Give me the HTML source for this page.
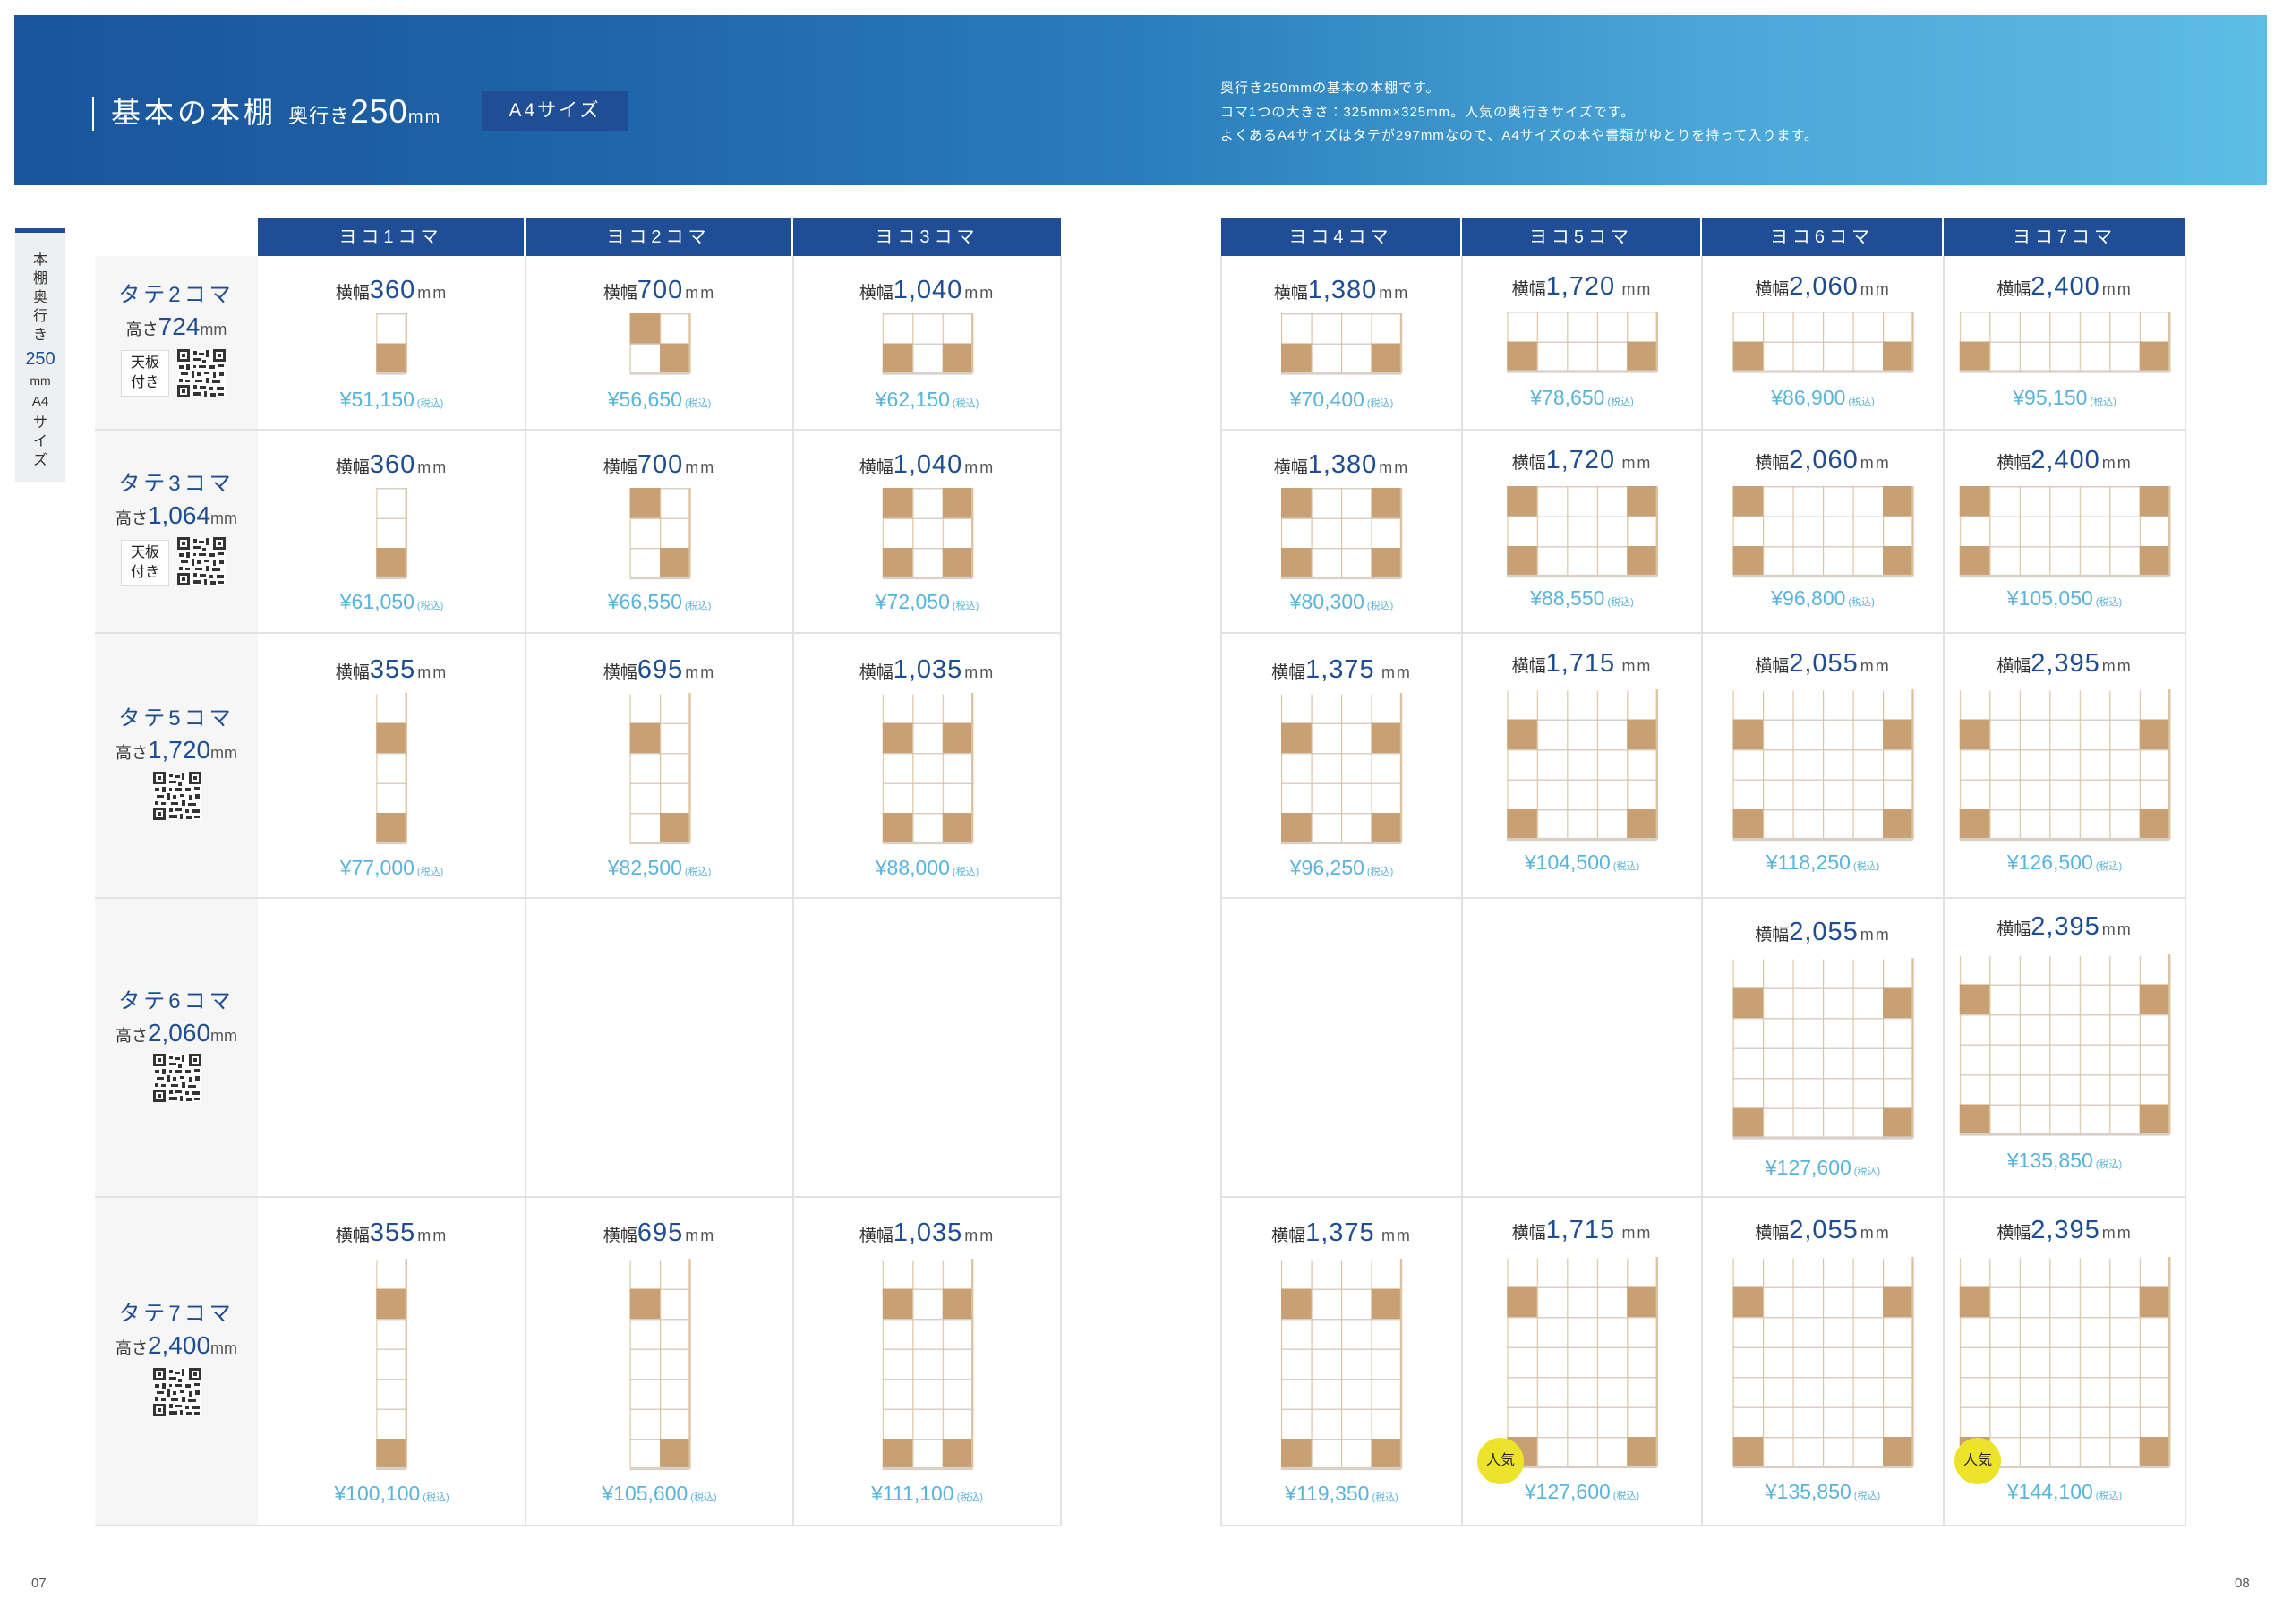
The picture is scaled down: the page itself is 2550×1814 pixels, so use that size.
<!DOCTYPE html>
<html><head><meta charset="utf-8">
<style>
*{margin:0;padding:0;box-sizing:border-box}
body{width:2550px;height:1814px;position:relative;background:#fff;font-family:"Liberation Sans","Noto Sans CJK JP",sans-serif;overflow:hidden}
.a{position:absolute}
.hd{left:16px;top:17px;width:2516px;height:190px;background:linear-gradient(90deg,#1a559b 0%,#1f64a8 25%,#2a7dbb 50%,#4aa6d7 75%,#5cbde5 100%)}
.w{position:absolute;text-align:center;font-size:19px;color:#333;line-height:40px;white-space:nowrap}
.w b{font-weight:normal;font-size:29px;color:#1e4d92;letter-spacing:1px}
.w i{font-style:normal;font-size:18px;color:#555;letter-spacing:2px;margin-left:2px}
.p{position:absolute;text-align:center;font-size:23px;color:#5ab3da;line-height:32px;white-space:nowrap}
.p s{text-decoration:none;font-size:11px;margin-left:3px}
.th{position:absolute;top:244px;height:42px;background:#1f4e96;color:#fff;font-size:20px;letter-spacing:5px;line-height:42px;text-align:center}
.lb{position:absolute;left:106px;width:182px;text-align:center;white-space:nowrap}
.lb .t{font-size:24px;color:#1e4d92;letter-spacing:4px;line-height:34px}
.lb .h{font-size:18px;color:#333;line-height:36px}
.lb .h b{font-weight:normal;font-size:28px;color:#1e4d92}
.lb .h i{font-style:normal;font-size:18px;color:#555}
.tb{position:absolute;width:54px;height:52px;border:1px solid #ddd;background:#fff;font-size:16px;line-height:22px;text-align:center;padding-top:3px;color:#222}
.qr{position:absolute;width:54px;height:54px}
.nk{position:absolute;width:52px;height:52px;border-radius:50%;background:#ece32a;font-size:16px;line-height:52px;text-align:center;color:#222}
</style></head><body>
<div class="a hd"></div>
<div class="a" style="left:103px;top:108px;width:2px;height:38px;background:#fff"></div>
<div class="a" style="left:124px;top:100px;color:#fff;font-size:33px;letter-spacing:4px;line-height:50px;white-space:nowrap">基本の本棚 <span style="font-size:22px;letter-spacing:1px">奥行き</span><span style="font-size:37px;letter-spacing:1px">250</span><span style="font-size:20px;letter-spacing:2px">mm</span></div>
<div class="a" style="left:538px;top:102px;width:164px;height:44px;background:#1f4e96;color:#fff;font-size:21px;letter-spacing:3px;line-height:44px;text-align:center">A4サイズ</div>
<div class="a" style="left:1363px;top:86px;color:#fff;font-size:15px;line-height:26.5px;letter-spacing:1px;white-space:nowrap">奥行き250mmの基本の本棚です。<br>コマ1つの大きさ：325mm×325mm。人気の奥行きサイズです。<br>よくあるA4サイズはタテが297mmなので、A4サイズの本や書類がゆとりを持って入ります。</div>

<div class="a" style="left:17px;top:255px;width:56px;height:283px;background:#eeeff1;border-top:5px solid #1f4e96"></div>
<div class="a" style="left:17px;top:280px;width:56px;text-align:center;font-size:16px;line-height:21px;color:#333">本<br>棚<br>奥<br>行<br>き<div style="color:#1e4d92;font-size:20px;line-height:26px;margin-top:3px">250</div><div style="font-size:14px;line-height:22px">mm</div><div style="font-size:15px;line-height:26px">A4</div>サ<br>イ<br>ズ</div>

<svg class="a" style="left:0;top:0" width="2550" height="1814">
<defs>
<pattern id="p" width="1" height="1" patternUnits="userSpaceOnUse"><rect width="1" height="1" fill="#fff"/><path d="M0 0H1" stroke="#d8cfc6" stroke-width=".09"/><path d="M0 0V1" stroke="#dcc29e" stroke-width=".07"/></pattern>
<pattern id="q" width="54" height="54" patternUnits="userSpaceOnUse">
<rect width="54" height="54" fill="#fff"/>
<path fill="#333" d="M0 0h14v14H0zM40 0h14v14H40zM0 40h14v14H0zM18 2h4v4h-4zM24 4h6v3h-6zM32 1h3v8h-3zM18 10h8v3h-8zM28 12h4v4h-4zM2 18h5v4H2zM10 17h4v6h-4zM18 18h3v3h-3zM24 18h8v3h-8zM36 18h6v4h-6zM46 17h6v3h-6zM4 26h8v3H4zM16 24h3v8h-3zM22 26h4v4h-4zM30 25h5v3h-5zM40 26h3v6h-3zM47 25h5v5h-5zM2 33h4v4H2zM9 34h5v3H9zM20 34h8v3h-8zM32 32h4v6h-4zM39 35h9v3h-9zM18 40h4v5h-4zM25 41h7v3h-7zM36 42h4v4h-4zM44 42h8v4h-8zM18 48h9v4h-9zM30 47h3v6h-3zM37 49h6v4h-6zM46 49h6v3h-6z"/>
<path fill="#fff" d="M3 3h8v8H3zM43 3h8v8h-8zM3 43h8v8H3z"/><path fill="#333" d="M5 5h4v4H5zM45 5h4v4h-4zM5 45h4v4H5z"/>
</pattern>
</defs>
<!-- label column bg -->
<rect x="106" y="286" width="182" height="1418" fill="#f6f6f7"/>
<!-- left table borders -->
<g stroke="#e2e2e2" stroke-width="2" fill="none">
<path d="M106 480H1185M106 707H1185M106 1003H1185M106 1337H1185M106 1704H1185"/>
<path d="M587 286V1704M886 286V1704M1185 286V1704"/>
<path d="M1364 480H2441M1364 707H2441M1364 1003H2441M1364 1337H2441M1364 1704H2441"/>
<path d="M1364 286V1704M1633 286V1704M1901 286V1704M2171 286V1704M2441 286V1704"/>
</g>
<g fill="#c8a073">
<!-- row1 rows=2 top 350 -->
<g transform="translate(420.25,350) scale(33.5)"><rect width="1" height="2" fill="url(#p)"/><rect x="0" y="1" width="1" height="1"/><path d="M1 0V2" stroke="#dcc29e" stroke-width=".07"/><path d="M0 2H1" stroke="#d8cfc6" stroke-width=".1"/></g>
<g transform="translate(703.5,350) scale(33.5)"><rect width="2" height="2" fill="url(#p)"/><rect x="0" y="0" width="1" height="1"/><rect x="1" y="1" width="1" height="1"/><path d="M2 0V2" stroke="#dcc29e" stroke-width=".07"/><path d="M0 2H2" stroke="#d8cfc6" stroke-width=".1"/></g>
<g transform="translate(985.75,350) scale(33.5)"><rect width="3" height="2" fill="url(#p)"/><rect x="0" y="1" width="1" height="1"/><rect x="2" y="1" width="1" height="1"/><path d="M3 0V2" stroke="#dcc29e" stroke-width=".07"/><path d="M0 2H3" stroke="#d8cfc6" stroke-width=".1"/></g>
<g transform="translate(1431,350) scale(33.5)"><rect width="4" height="2" fill="url(#p)"/><rect x="0" y="1" width="1" height="1"/><rect x="3" y="1" width="1" height="1"/><path d="M4 0V2" stroke="#dcc29e" stroke-width=".07"/><path d="M0 2H4" stroke="#d8cfc6" stroke-width=".1"/></g>
<g transform="translate(1683.25,348) scale(33.5)"><rect width="5" height="2" fill="url(#p)"/><rect x="0" y="1" width="1" height="1"/><rect x="4" y="1" width="1" height="1"/><path d="M5 0V2" stroke="#dcc29e" stroke-width=".07"/><path d="M0 2H5" stroke="#d8cfc6" stroke-width=".1"/></g>
<g transform="translate(1935.5,348) scale(33.5)"><rect width="6" height="2" fill="url(#p)"/><rect x="0" y="1" width="1" height="1"/><rect x="5" y="1" width="1" height="1"/><path d="M6 0V2" stroke="#dcc29e" stroke-width=".07"/><path d="M0 2H6" stroke="#d8cfc6" stroke-width=".1"/></g>
<g transform="translate(2188.75,348) scale(33.5)"><rect width="7" height="2" fill="url(#p)"/><rect x="0" y="1" width="1" height="1"/><rect x="6" y="1" width="1" height="1"/><path d="M7 0V2" stroke="#dcc29e" stroke-width=".07"/><path d="M0 2H7" stroke="#d8cfc6" stroke-width=".1"/></g>
<!-- row2 rows=3 top 545 -->
<g transform="translate(420.25,545) scale(33.5)"><rect width="1" height="3" fill="url(#p)"/><rect x="0" y="2" width="1" height="1"/><path d="M1 0V3" stroke="#dcc29e" stroke-width=".07"/><path d="M0 3H1" stroke="#d8cfc6" stroke-width=".1"/></g>
<g transform="translate(703.5,545) scale(33.5)"><rect width="2" height="3" fill="url(#p)"/><rect x="0" y="0" width="1" height="1"/><rect x="1" y="2" width="1" height="1"/><path d="M2 0V3" stroke="#dcc29e" stroke-width=".07"/><path d="M0 3H2" stroke="#d8cfc6" stroke-width=".1"/></g>
<g transform="translate(985.75,545) scale(33.5)"><rect width="3" height="3" fill="url(#p)"/><rect x="0" y="0" width="1" height="1"/><rect x="2" y="0" width="1" height="1"/><rect x="0" y="2" width="1" height="1"/><rect x="2" y="2" width="1" height="1"/><path d="M3 0V3" stroke="#dcc29e" stroke-width=".07"/><path d="M0 3H3" stroke="#d8cfc6" stroke-width=".1"/></g>
<g transform="translate(1431,545) scale(33.5)"><rect width="4" height="3" fill="url(#p)"/><rect x="0" y="0" width="1" height="1"/><rect x="3" y="0" width="1" height="1"/><rect x="0" y="2" width="1" height="1"/><rect x="3" y="2" width="1" height="1"/><path d="M4 0V3" stroke="#dcc29e" stroke-width=".07"/><path d="M0 3H4" stroke="#d8cfc6" stroke-width=".1"/></g>
<g transform="translate(1683.25,543) scale(33.5)"><rect width="5" height="3" fill="url(#p)"/><rect x="0" y="0" width="1" height="1"/><rect x="4" y="0" width="1" height="1"/><rect x="0" y="2" width="1" height="1"/><rect x="4" y="2" width="1" height="1"/><path d="M5 0V3" stroke="#dcc29e" stroke-width=".07"/><path d="M0 3H5" stroke="#d8cfc6" stroke-width=".1"/></g>
<g transform="translate(1935.5,543) scale(33.5)"><rect width="6" height="3" fill="url(#p)"/><rect x="0" y="0" width="1" height="1"/><rect x="5" y="0" width="1" height="1"/><rect x="0" y="2" width="1" height="1"/><rect x="5" y="2" width="1" height="1"/><path d="M6 0V3" stroke="#dcc29e" stroke-width=".07"/><path d="M0 3H6" stroke="#d8cfc6" stroke-width=".1"/></g>
<g transform="translate(2188.75,543) scale(33.5)"><rect width="7" height="3" fill="url(#p)"/><rect x="0" y="0" width="1" height="1"/><rect x="6" y="0" width="1" height="1"/><rect x="0" y="2" width="1" height="1"/><rect x="6" y="2" width="1" height="1"/><path d="M7 0V3" stroke="#dcc29e" stroke-width=".07"/><path d="M0 3H7" stroke="#d8cfc6" stroke-width=".1"/></g>
<!-- row3 rows=5 top 774 -->
<g transform="translate(420.25,774) scale(33.5)"><rect width="1" height="5" fill="url(#p)"/><rect x="0" y="1" width="1" height="1"/><rect x="0" y="4" width="1" height="1"/><path d="M0 0H1" stroke="#fff" stroke-width=".1"/><path d="M1 0V5" stroke="#dcc29e" stroke-width=".07"/><path d="M0 5H1" stroke="#d8cfc6" stroke-width=".1"/></g>
<g transform="translate(703.5,774) scale(33.5)"><rect width="2" height="5" fill="url(#p)"/><rect x="0" y="1" width="1" height="1"/><rect x="1" y="4" width="1" height="1"/><path d="M0 0H2" stroke="#fff" stroke-width=".1"/><path d="M2 0V5" stroke="#dcc29e" stroke-width=".07"/><path d="M0 5H2" stroke="#d8cfc6" stroke-width=".1"/></g>
<g transform="translate(985.75,774) scale(33.5)"><rect width="3" height="5" fill="url(#p)"/><rect x="0" y="1" width="1" height="1"/><rect x="2" y="1" width="1" height="1"/><rect x="0" y="4" width="1" height="1"/><rect x="2" y="4" width="1" height="1"/><path d="M0 0H3" stroke="#fff" stroke-width=".1"/><path d="M3 0V5" stroke="#dcc29e" stroke-width=".07"/><path d="M0 5H3" stroke="#d8cfc6" stroke-width=".1"/></g>
<g transform="translate(1431,774) scale(33.5)"><rect width="4" height="5" fill="url(#p)"/><rect x="0" y="1" width="1" height="1"/><rect x="3" y="1" width="1" height="1"/><rect x="0" y="4" width="1" height="1"/><rect x="3" y="4" width="1" height="1"/><path d="M0 0H4" stroke="#fff" stroke-width=".1"/><path d="M4 0V5" stroke="#dcc29e" stroke-width=".07"/><path d="M0 5H4" stroke="#d8cfc6" stroke-width=".1"/></g>
<g transform="translate(1683.25,770) scale(33.5)"><rect width="5" height="5" fill="url(#p)"/><rect x="0" y="1" width="1" height="1"/><rect x="4" y="1" width="1" height="1"/><rect x="0" y="4" width="1" height="1"/><rect x="4" y="4" width="1" height="1"/><path d="M0 0H5" stroke="#fff" stroke-width=".1"/><path d="M5 0V5" stroke="#dcc29e" stroke-width=".07"/><path d="M0 5H5" stroke="#d8cfc6" stroke-width=".1"/></g>
<g transform="translate(1935.5,770) scale(33.5)"><rect width="6" height="5" fill="url(#p)"/><rect x="0" y="1" width="1" height="1"/><rect x="5" y="1" width="1" height="1"/><rect x="0" y="4" width="1" height="1"/><rect x="5" y="4" width="1" height="1"/><path d="M0 0H6" stroke="#fff" stroke-width=".1"/><path d="M6 0V5" stroke="#dcc29e" stroke-width=".07"/><path d="M0 5H6" stroke="#d8cfc6" stroke-width=".1"/></g>
<g transform="translate(2188.75,770) scale(33.5)"><rect width="7" height="5" fill="url(#p)"/><rect x="0" y="1" width="1" height="1"/><rect x="6" y="1" width="1" height="1"/><rect x="0" y="4" width="1" height="1"/><rect x="6" y="4" width="1" height="1"/><path d="M0 0H7" stroke="#fff" stroke-width=".1"/><path d="M7 0V5" stroke="#dcc29e" stroke-width=".07"/><path d="M0 5H7" stroke="#d8cfc6" stroke-width=".1"/></g>
<!-- row4 rows=6 -->
<g transform="translate(1935.5,1070) scale(33.5)"><rect width="6" height="6" fill="url(#p)"/><rect x="0" y="1" width="1" height="1"/><rect x="5" y="1" width="1" height="1"/><rect x="0" y="5" width="1" height="1"/><rect x="5" y="5" width="1" height="1"/><path d="M0 0H6" stroke="#fff" stroke-width=".1"/><path d="M6 0V6" stroke="#dcc29e" stroke-width=".07"/><path d="M0 6H6" stroke="#d8cfc6" stroke-width=".1"/></g>
<g transform="translate(2188.75,1066) scale(33.5)"><rect width="7" height="6" fill="url(#p)"/><rect x="0" y="1" width="1" height="1"/><rect x="6" y="1" width="1" height="1"/><rect x="0" y="5" width="1" height="1"/><rect x="6" y="5" width="1" height="1"/><path d="M0 0H7" stroke="#fff" stroke-width=".1"/><path d="M7 0V6" stroke="#dcc29e" stroke-width=".07"/><path d="M0 6H7" stroke="#d8cfc6" stroke-width=".1"/></g>
<!-- row5 rows=7 top 1406 -->
<g transform="translate(420.25,1406) scale(33.5)"><rect width="1" height="7" fill="url(#p)"/><rect x="0" y="1" width="1" height="1"/><rect x="0" y="6" width="1" height="1"/><path d="M0 0H1" stroke="#fff" stroke-width=".1"/><path d="M1 0V7" stroke="#dcc29e" stroke-width=".07"/><path d="M0 7H1" stroke="#d8cfc6" stroke-width=".1"/></g>
<g transform="translate(703.5,1406) scale(33.5)"><rect width="2" height="7" fill="url(#p)"/><rect x="0" y="1" width="1" height="1"/><rect x="1" y="6" width="1" height="1"/><path d="M0 0H2" stroke="#fff" stroke-width=".1"/><path d="M2 0V7" stroke="#dcc29e" stroke-width=".07"/><path d="M0 7H2" stroke="#d8cfc6" stroke-width=".1"/></g>
<g transform="translate(985.75,1406) scale(33.5)"><rect width="3" height="7" fill="url(#p)"/><rect x="0" y="1" width="1" height="1"/><rect x="2" y="1" width="1" height="1"/><rect x="0" y="6" width="1" height="1"/><rect x="2" y="6" width="1" height="1"/><path d="M0 0H3" stroke="#fff" stroke-width=".1"/><path d="M3 0V7" stroke="#dcc29e" stroke-width=".07"/><path d="M0 7H3" stroke="#d8cfc6" stroke-width=".1"/></g>
<g transform="translate(1431,1406) scale(33.5)"><rect width="4" height="7" fill="url(#p)"/><rect x="0" y="1" width="1" height="1"/><rect x="3" y="1" width="1" height="1"/><rect x="0" y="6" width="1" height="1"/><rect x="3" y="6" width="1" height="1"/><path d="M0 0H4" stroke="#fff" stroke-width=".1"/><path d="M4 0V7" stroke="#dcc29e" stroke-width=".07"/><path d="M0 7H4" stroke="#d8cfc6" stroke-width=".1"/></g>
<g transform="translate(1683.25,1404) scale(33.5)"><rect width="5" height="7" fill="url(#p)"/><rect x="0" y="1" width="1" height="1"/><rect x="4" y="1" width="1" height="1"/><rect x="0" y="6" width="1" height="1"/><rect x="4" y="6" width="1" height="1"/><path d="M0 0H5" stroke="#fff" stroke-width=".1"/><path d="M5 0V7" stroke="#dcc29e" stroke-width=".07"/><path d="M0 7H5" stroke="#d8cfc6" stroke-width=".1"/></g>
<g transform="translate(1935.5,1404) scale(33.5)"><rect width="6" height="7" fill="url(#p)"/><rect x="0" y="1" width="1" height="1"/><rect x="5" y="1" width="1" height="1"/><rect x="0" y="6" width="1" height="1"/><rect x="5" y="6" width="1" height="1"/><path d="M0 0H6" stroke="#fff" stroke-width=".1"/><path d="M6 0V7" stroke="#dcc29e" stroke-width=".07"/><path d="M0 7H6" stroke="#d8cfc6" stroke-width=".1"/></g>
<g transform="translate(2188.75,1404) scale(33.5)"><rect width="7" height="7" fill="url(#p)"/><rect x="0" y="1" width="1" height="1"/><rect x="6" y="1" width="1" height="1"/><rect x="0" y="6" width="1" height="1"/><rect x="6" y="6" width="1" height="1"/><path d="M0 0H7" stroke="#fff" stroke-width=".1"/><path d="M7 0V7" stroke="#dcc29e" stroke-width=".07"/><path d="M0 7H7" stroke="#d8cfc6" stroke-width=".1"/></g>
</g>
<!-- QR codes -->
<rect x="198" y="390" width="54" height="54" fill="url(#q)" transform="translate(0,0)"/>
</svg>
<svg class="qr" style="left:198px;top:390px"><rect width="54" height="54" fill="url(#q)"/></svg>
<svg class="qr" style="left:198px;top:600px"><rect width="54" height="54" fill="url(#q)"/></svg>
<svg class="qr" style="left:171px;top:862px"><rect width="54" height="54" fill="url(#q)"/></svg>
<svg class="qr" style="left:171px;top:1177px"><rect width="54" height="54" fill="url(#q)"/></svg>
<svg class="qr" style="left:171px;top:1528px"><rect width="54" height="54" fill="url(#q)"/></svg>

<!-- headers -->
<div class="th" style="left:288px;width:297px">ヨコ1コマ</div>
<div class="th" style="left:587px;width:297px">ヨコ2コマ</div>
<div class="th" style="left:886px;width:299px">ヨコ3コマ</div>
<div class="th" style="left:1364px;width:267px">ヨコ4コマ</div>
<div class="th" style="left:1633px;width:266px">ヨコ5コマ</div>
<div class="th" style="left:1901px;width:268px">ヨコ6コマ</div>
<div class="th" style="left:2171px;width:270px">ヨコ7コマ</div>

<!-- row labels -->
<div class="lb" style="top:313px"><div class="t">タテ2コマ</div><div class="h">高さ<b>724</b><i>mm</i></div></div>
<div class="tb" style="left:135px;top:391px">天板<br>付き</div>
<div class="lb" style="top:524px"><div class="t">タテ3コマ</div><div class="h">高さ<b>1,064</b><i>mm</i></div></div>
<div class="tb" style="left:135px;top:603px">天板<br>付き</div>
<div class="lb" style="top:786px"><div class="t">タテ5コマ</div><div class="h">高さ<b>1,720</b><i>mm</i></div></div>
<div class="lb" style="top:1102px"><div class="t">タテ6コマ</div><div class="h">高さ<b>2,060</b><i>mm</i></div></div>
<div class="lb" style="top:1451px"><div class="t">タテ7コマ</div><div class="h">高さ<b>2,400</b><i>mm</i></div></div>

<!-- row1 -->
<div class="w" style="left:288px;width:299px;top:304px">横幅<b>360</b><i>mm</i></div>
<div class="w" style="left:587px;width:299px;top:304px">横幅<b>700</b><i>mm</i></div>
<div class="w" style="left:886px;width:299px;top:304px">横幅<b>1,040</b><i>mm</i></div>
<div class="w" style="left:1364px;width:269px;top:304px">横幅<b>1,380</b><i>mm</i></div>
<div class="w" style="left:1633px;width:268px;top:300px">横幅<b>1,720</b> <i>mm</i></div>
<div class="w" style="left:1901px;width:270px;top:300px">横幅<b>2,060</b><i>mm</i></div>
<div class="w" style="left:2171px;width:270px;top:300px">横幅<b>2,400</b><i>mm</i></div>
<div class="p" style="left:288px;width:299px;top:430px">¥51,150<s>(税込)</s></div>
<div class="p" style="left:587px;width:299px;top:430px">¥56,650<s>(税込)</s></div>
<div class="p" style="left:886px;width:299px;top:430px">¥62,150<s>(税込)</s></div>
<div class="p" style="left:1364px;width:269px;top:430px">¥70,400<s>(税込)</s></div>
<div class="p" style="left:1633px;width:268px;top:428px">¥78,650<s>(税込)</s></div>
<div class="p" style="left:1901px;width:270px;top:428px">¥86,900<s>(税込)</s></div>
<div class="p" style="left:2171px;width:270px;top:428px">¥95,150<s>(税込)</s></div>
<!-- row2 -->
<div class="w" style="left:288px;width:299px;top:499px">横幅<b>360</b><i>mm</i></div>
<div class="w" style="left:587px;width:299px;top:499px">横幅<b>700</b><i>mm</i></div>
<div class="w" style="left:886px;width:299px;top:499px">横幅<b>1,040</b><i>mm</i></div>
<div class="w" style="left:1364px;width:269px;top:499px">横幅<b>1,380</b><i>mm</i></div>
<div class="w" style="left:1633px;width:268px;top:494px">横幅<b>1,720</b> <i>mm</i></div>
<div class="w" style="left:1901px;width:270px;top:494px">横幅<b>2,060</b><i>mm</i></div>
<div class="w" style="left:2171px;width:270px;top:494px">横幅<b>2,400</b><i>mm</i></div>
<div class="p" style="left:288px;width:299px;top:656px">¥61,050<s>(税込)</s></div>
<div class="p" style="left:587px;width:299px;top:656px">¥66,550<s>(税込)</s></div>
<div class="p" style="left:886px;width:299px;top:656px">¥72,050<s>(税込)</s></div>
<div class="p" style="left:1364px;width:269px;top:656px">¥80,300<s>(税込)</s></div>
<div class="p" style="left:1633px;width:268px;top:652px">¥88,550<s>(税込)</s></div>
<div class="p" style="left:1901px;width:270px;top:652px">¥96,800<s>(税込)</s></div>
<div class="p" style="left:2171px;width:270px;top:652px">¥105,050<s>(税込)</s></div>
<!-- row3 -->
<div class="w" style="left:288px;width:299px;top:728px">横幅<b>355</b><i>mm</i></div>
<div class="w" style="left:587px;width:299px;top:728px">横幅<b>695</b><i>mm</i></div>
<div class="w" style="left:886px;width:299px;top:728px">横幅<b>1,035</b><i>mm</i></div>
<div class="w" style="left:1364px;width:269px;top:728px">横幅<b>1,375</b> <i>mm</i></div>
<div class="w" style="left:1633px;width:268px;top:721px">横幅<b>1,715</b> <i>mm</i></div>
<div class="w" style="left:1901px;width:270px;top:721px">横幅<b>2,055</b><i>mm</i></div>
<div class="w" style="left:2171px;width:270px;top:721px">横幅<b>2,395</b><i>mm</i></div>
<div class="p" style="left:288px;width:299px;top:953px">¥77,000<s>(税込)</s></div>
<div class="p" style="left:587px;width:299px;top:953px">¥82,500<s>(税込)</s></div>
<div class="p" style="left:886px;width:299px;top:953px">¥88,000<s>(税込)</s></div>
<div class="p" style="left:1364px;width:269px;top:953px">¥96,250<s>(税込)</s></div>
<div class="p" style="left:1633px;width:268px;top:947px">¥104,500<s>(税込)</s></div>
<div class="p" style="left:1901px;width:270px;top:947px">¥118,250<s>(税込)</s></div>
<div class="p" style="left:2171px;width:270px;top:947px">¥126,500<s>(税込)</s></div>
<!-- row4 -->
<div class="w" style="left:1901px;width:270px;top:1021px">横幅<b>2,055</b><i>mm</i></div>
<div class="w" style="left:2171px;width:270px;top:1015px">横幅<b>2,395</b><i>mm</i></div>
<div class="p" style="left:1901px;width:270px;top:1288px">¥127,600<s>(税込)</s></div>
<div class="p" style="left:2171px;width:270px;top:1280px">¥135,850<s>(税込)</s></div>
<!-- row5 -->
<div class="w" style="left:288px;width:299px;top:1357px">横幅<b>355</b><i>mm</i></div>
<div class="w" style="left:587px;width:299px;top:1357px">横幅<b>695</b><i>mm</i></div>
<div class="w" style="left:886px;width:299px;top:1357px">横幅<b>1,035</b><i>mm</i></div>
<div class="w" style="left:1364px;width:269px;top:1357px">横幅<b>1,375</b> <i>mm</i></div>
<div class="w" style="left:1633px;width:268px;top:1354px">横幅<b>1,715</b> <i>mm</i></div>
<div class="w" style="left:1901px;width:270px;top:1354px">横幅<b>2,055</b><i>mm</i></div>
<div class="w" style="left:2171px;width:270px;top:1354px">横幅<b>2,395</b><i>mm</i></div>
<div class="p" style="left:288px;width:299px;top:1652px">¥100,100<s>(税込)</s></div>
<div class="p" style="left:587px;width:299px;top:1652px">¥105,600<s>(税込)</s></div>
<div class="p" style="left:886px;width:299px;top:1652px">¥111,100<s>(税込)</s></div>
<div class="p" style="left:1364px;width:269px;top:1652px">¥119,350<s>(税込)</s></div>
<div class="p" style="left:1633px;width:268px;top:1650px">¥127,600<s>(税込)</s></div>
<div class="p" style="left:1901px;width:270px;top:1650px">¥135,850<s>(税込)</s></div>
<div class="p" style="left:2171px;width:270px;top:1650px">¥144,100<s>(税込)</s></div>

<div class="nk" style="left:1650px;top:1606px">人気</div>
<div class="nk" style="left:2183px;top:1606px">人気</div>

<div class="a" style="left:35px;top:1760px;font-size:15px;color:#555">07</div>
<div class="a" style="left:2496px;top:1760px;font-size:15px;color:#555">08</div>
</body></html>
